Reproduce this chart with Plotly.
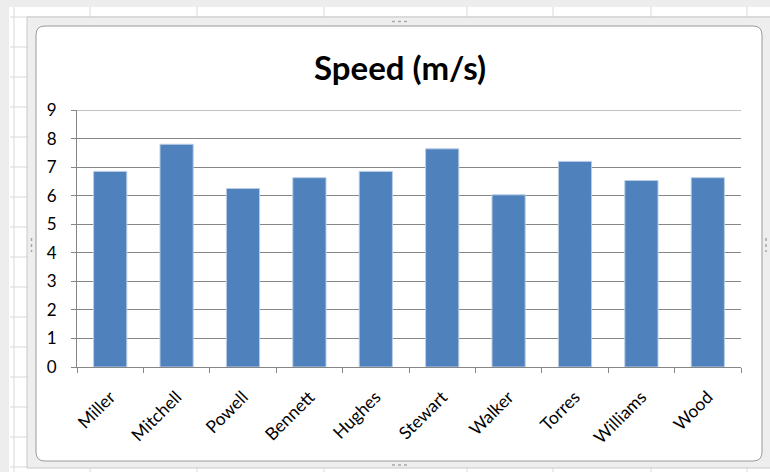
import plotly.graph_objects as go

names = ["Miller", "Mitchell", "Powell", "Bennett", "Hughes",
         "Stewart", "Walker", "Torres", "Williams", "Wood"]
speed = [6.85, 7.8, 6.25, 6.63, 6.85, 7.64, 6.03, 7.2, 6.53, 6.63]
y_ticks = [0, 1, 2, 3, 4, 5, 6, 7, 8, 9]
title_text = "Speed (m/s)"

W, H = 770, 472
L, R, T, B = 77, 741, 110, 367  # plot area in pixels


def px(x):
    return (x - L) / (R - L)


def py(y):
    return (B - y) / (B - T)


shapes = []
grid_col = "#d9d9d9"
# window shadows
shapes.append(dict(type="rect", xref="paper", yref="paper",
                   x0=px(0), x1=px(770), y0=py(0), y1=py(7),
                   fillcolor="#ededed", line=dict(width=0), layer="below"))
shapes.append(dict(type="rect", xref="paper", yref="paper",
                   x0=px(0), x1=px(9), y0=py(0), y1=py(472),
                   fillcolor="#ededed", line=dict(width=0), layer="below"))
# spreadsheet background cell lines
for x in [90, 197, 324, 467, 553, 651, 747]:
    shapes.append(dict(type="line", xref="paper", yref="paper",
                       x0=px(x), x1=px(x), y0=py(7), y1=py(17),
                       line=dict(color=grid_col, width=1), layer="below"))
    shapes.append(dict(type="line", xref="paper", yref="paper",
                       x0=px(x), x1=px(x), y0=py(468), y1=py(472),
                       line=dict(color=grid_col, width=1), layer="below"))
shapes.append(dict(type="line", xref="paper", yref="paper",
                   x0=px(14), x1=px(14), y0=py(7), y1=py(472),
                   line=dict(color=grid_col, width=1), layer="below"))
for y in range(47, 472, 30):
    shapes.append(dict(type="line", xref="paper", yref="paper",
                       x0=px(10), x1=px(27), y0=py(y), y1=py(y),
                       line=dict(color=grid_col, width=1), layer="below"))
shapes.append(dict(type="line", xref="paper", yref="paper",
                   x0=px(10), x1=px(770), y0=py(17), y1=py(17),
                   line=dict(color=grid_col, width=1), layer="below"))
# chart selection frame
shapes.append(dict(type="rect", xref="paper", yref="paper",
                   x0=px(27), x1=px(772), y0=py(17), y1=py(468),
                   fillcolor="#eeeeee", line=dict(color="#c8c8c8", width=1),
                   layer="below"))
# frame handles
for (hx0, hx1, hy0, hy1) in [(392, 408, 21.5, 21.5), (392, 408, 465, 465),
                             (31.5, 31.5, 238, 252), (766, 766, 238, 252)]:
    shapes.append(dict(type="line", xref="paper", yref="paper",
                       x0=px(hx0), x1=px(hx1), y0=py(hy0), y1=py(hy1),
                       line=dict(color="#a8a8a8", width=1.5, dash="dot"),
                       layer="below"))


def rrect(x0, y0, x1, y1, r):
    X = lambda v: px(v)
    Y = lambda v: py(v)
    return (f"M {X(x0 + r)},{Y(y0)} L {X(x1 - r)},{Y(y0)} "
            f"Q {X(x1)},{Y(y0)} {X(x1)},{Y(y0 + r)} "
            f"L {X(x1)},{Y(y1 - r)} Q {X(x1)},{Y(y1)} {X(x1 - r)},{Y(y1)} "
            f"L {X(x0 + r)},{Y(y1)} Q {X(x0)},{Y(y1)} {X(x0)},{Y(y1 - r)} "
            f"L {X(x0)},{Y(y0 + r)} Q {X(x0)},{Y(y0)} {X(x0 + r)},{Y(y0)} Z")


shapes.append(dict(type="path", xref="paper", yref="paper",
                   path=rrect(36, 26, 762, 461, 9),
                   fillcolor="white", line=dict(color="#9a9a9a", width=1),
                   layer="below"))
# top gridline at the maximum of the value axis
shapes.append(dict(type="line", xref="paper", yref="y",
                   x0=0, x1=1, y0=y_ticks[-1], y1=y_ticks[-1],
                   line=dict(color="#868686", width=1), layer="below"))

fig = go.Figure(go.Bar(
    x=names, y=speed,
    marker=dict(color="#4F81BD", line=dict(color="#b9cde5", width=1)),
    hoverinfo="x+y",
))

fig.update_layout(
    width=W, height=H,
    margin=dict(l=L, r=W - R, t=T, b=H - B, pad=0),
    paper_bgcolor="white",
    plot_bgcolor="rgba(0,0,0,0)",
    bargap=0.5,
    showlegend=False,
    shapes=shapes,
    font=dict(family="Lato, 'Open Sans', sans-serif", color="#000000"),
    title=dict(text="<b>" + title_text + "</b>", x=400 / W, xanchor="center",
               y=1 - 68 / H, yanchor="middle",
               font=dict(size=33, family="Lato, 'Open Sans', sans-serif",
                         color="#000000")),
    xaxis=dict(
        tickangle=-45, tickson="boundaries", ticks="outside", ticklen=5,
        tickcolor="#868686", showline=True, linecolor="#868686", linewidth=1,
        showgrid=False, tickfont=dict(size=17.5, color="#000000"),
        range=[-0.5, 9.5], ticklabelstandoff=12,
    ),
    yaxis=dict(
        range=[0, 9], tickvals=y_ticks, ticks="outside", ticklen=5,
        tickcolor="#868686", showline=True, linecolor="#868686", linewidth=1,
        showgrid=True, gridcolor="#868686", gridwidth=1, zeroline=False,
        tickfont=dict(size=17, color="#000000"), ticklabelstandoff=11,
    ),
)

fig.write_html("out.html", config={"displayModeBar": False},
               post_script="document.body.style.margin='0';")
